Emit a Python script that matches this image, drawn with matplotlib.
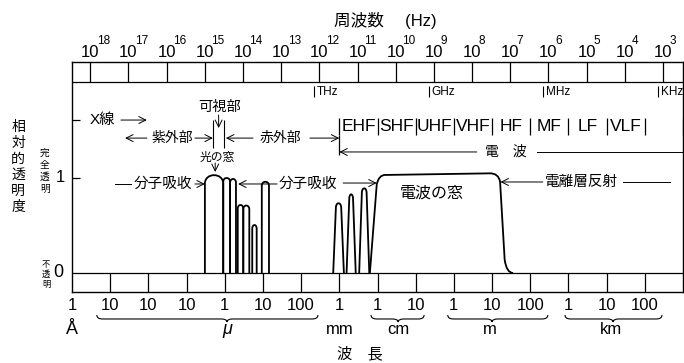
import numpy as np
import matplotlib.pyplot as plt
from matplotlib.path import Path
from matplotlib.patches import PathPatch

plt.rcParams['font.family'] = ['Liberation Sans', 'Noto Sans CJK JP', 'DejaVu Sans']

# x axis: log10(wavelength in m); y axis: relative transparency (0..1)
LOG_C = np.log10(2.998e8)

# top frequency scale (Hz exponents)
freq_exps = [18, 17, 16, 15, 14, 13, 12, 11, 10, 9, 8, 7, 6, 5, 4, 3]
freq_units = ['THz', 'GHz', 'MHz', 'KHz']
freq_unit_exps = [12, 9, 6, 3]

# bottom wavelength scale
wl_pos = list(range(-10, 6))
wl_labels = ['1', '10', '10', '10', '1', '10', '100', '1',
             '1', '10', '1', '10', '100', '1', '10', '100']
unit_names = ['Å', 'μ', 'mm', 'cm', 'm', 'km']
unit_pos = [-10, -5.94, -3, -1.46, 0.95, 4.12]
brace_left = [-9.35, -2.17, -0.16, 2.91]
brace_mid = [-5.94, -1.46, 1.0, 4.17]
brace_right = [-3.56, -0.78, 2.46, 5.45]

# radio bands
band_names = ['EHF', 'SHF', 'UHF', 'VHF', 'HF', 'MF', 'LF', 'VLF', '']
band_edges = [-3, -2, -1, 0, 1, 2, 3, 4, 5, 6]

# optical / infrared windows (left, right, peak transparency)
opt_left = [-6.52, -6.04, -5.86, -5.66, -5.515, -5.28, -5.03]
opt_right = [-6.04, -5.86, -5.706, -5.515, -5.357, -5.164, -4.842]
opt_top = [1.03, 1.0, 0.99, 0.716, 0.71, 0.505, 0.96]

# millimetre-wave peaks (base left, base right, peak)
mm_left = [-3.16, -2.81, -2.48]
mm_right = [-2.88, -2.57, -2.215]
mm_top = [0.734, 0.828, 0.891]

# radio window outline
win_u = [-2.20, -2.02, -1.97, -1.80, 0.95, 1.17, 1.21, 1.33, 1.38, 1.55]
win_t = [0.0, 0.93, 1.032, 1.032, 1.049, 1.049, 0.96, 0.14, 0.0, 0.0]

fig = plt.figure(figsize=(6.84, 3.63), dpi=100)
ax = fig.add_axes([72 / 684, 71 / 363, 611 / 684, 230 / 363])
ax.set_xlim(-10, 6)
ax.set_ylim(-0.2, 2.221)
ax.set_xticks([])
ax.set_yticks([])
for s in ax.spines.values():
    s.set_linewidth(1.0)

LW = 0.9
STRIP_TOP = 2.011

# strips
ax.axhline(0, color='black', lw=LW)
ax.axhline(STRIP_TOP, color='black', lw=LW)
freq_u = [LOG_C - n for n in freq_exps]
ax.vlines(freq_u, STRIP_TOP, 2.221, color='black', lw=LW)
ax.vlines(wl_pos[1:], -0.2, 0, color='black', lw=LW)
ax.hlines([1.0, 1.61], -10, -9.8, color='black', lw=LW)

# transmission curve
def arch(lb, rb, top, inset, ry):
    lt, rt = lb + inset, rb - inset
    verts = [(lb, 0), (lt, top - ry), (lt, top + ry / 3), (rt, top + ry / 3), (rt, top - ry), (rb, 0)]
    codes = [Path.MOVETO, Path.LINETO, Path.CURVE4, Path.CURVE4, Path.CURVE4, Path.LINETO]
    ax.add_patch(PathPatch(Path(verts, codes), fill=False, lw=1.3, color='black'))

for i in range(len(opt_left)):
    arch(opt_left[i], opt_right[i], opt_top[i], 0.0, 0.09 if i == 0 else 0.04)
for i in range(len(mm_left)):
    arch(mm_left[i], mm_right[i], mm_top[i], 0.07, 0.05)

win_codes = [Path.MOVETO, Path.LINETO, Path.CURVE3, Path.CURVE3, Path.LINETO,
             Path.CURVE3, Path.CURVE3, Path.LINETO, Path.CURVE3, Path.CURVE3]
ax.add_patch(PathPatch(Path(list(zip(win_u, win_t)), win_codes), fill=False, lw=1.3, color='black'))


def arrow(x0, x1, y0, y1=None):
    if y1 is None:
        y1 = y0
    ax.annotate('', xy=(x1, y1), xytext=(x0, y0),
                arrowprops=dict(arrowstyle='->,head_length=0.5,head_width=0.25',
                                lw=0.7, color='black', shrinkA=0, shrinkB=0,
                                mutation_scale=10))


def line(x0, x1, y):
    ax.plot([x0, x1], [y, y], color='black', lw=0.7)


# regions
ax.text(-9.21, 1.61, 'X線', fontsize=11, ha='center', va='center')
arrow(-8.72, -8.04, 1.61)
arrow(-8.04, -8.61, 1.42)
ax.text(-7.38, 1.42, '紫外部', fontsize=10, ha='center', va='center')
arrow(-6.78, -6.31, 1.42)
ax.vlines([-6.31, -6.02], 1.316, 1.61, color='black', lw=0.8)
ax.text(-6.14, 1.75, '可視部', fontsize=10.3, ha='center', va='center')
arrow(-6.16, -6.16, 1.663, 1.526)
arrow(-5.26, -5.97, 1.42)
ax.text(-4.55, 1.42, '赤外部', fontsize=10, ha='center', va='center')
arrow(-3.77, -3.0, 1.42)

ax.vlines(band_edges, 1.453, 1.632, color='black', lw=0.9)
ax.vlines(-3, 1.242, 1.453, color='black', lw=0.9)
for i, name in enumerate(band_names):
    ax.text((band_edges[i] + band_edges[i + 1]) / 2, 1.54, name,
            fontsize=12.5, ha='center', va='center')
arrow(0.6, -3.0, 1.274)
ax.text(1.36, 1.274, '電　波', fontsize=10, ha='center', va='center')
line(2.18, 6.0, 1.274)

ax.text(-6.2, 1.215, '光の窓', fontsize=8.5, ha='center', va='center')
arrow(-6.25, -6.25, 1.158, 1.063)

line(-8.87, -8.45, 0.937)
ax.text(-7.62, 0.937, '分子吸收', fontsize=10.5, ha='center', va='center')
arrow(-6.78, -6.52, 0.937)
arrow(-4.63, -5.65, 0.937)
ax.text(-3.82, 0.937, '分子吸收', fontsize=10.5, ha='center', va='center')
arrow(-2.90, -2.02, 0.947)

arrow(2.33, 1.22, 0.958)
ax.text(3.35, 0.958, '電離層反射', fontsize=10.5, ha='center', va='center')
line(4.43, 5.66, 0.958)
ax.text(-0.57, 0.842, '電波の窓', fontsize=11.5, ha='center', va='center')

# top frequency labels
for u, n in zip(freq_u, freq_exps):
    ax.text(u, 2.326, '10', fontsize=12, ha='center', va='center')
    ax.text(u + 0.17, 2.447, str(n), fontsize=8.5, ha='left', va='center')
ax.text(-1.79, 2.655, '周波数　 (Hz)', fontsize=12, ha='center', va='center')
for name, n in zip(freq_units, freq_unit_exps):
    u = LOG_C - n
    ax.vlines(u - 0.13, 1.853, 1.968, color='black', lw=0.8)
    ax.text(u - 0.06, 1.91, name, fontsize=8.5, ha='left', va='center')

# y labels
ax.text(-11.41, 1.116, '相\n対\n的\n透\n明\n度', fontsize=10, ha='center', va='center',
        linespacing=1.18, clip_on=False)
ax.text(-10.71, 1.074, '完\n全\n透\n明', fontsize=7, ha='center', va='center',
        linespacing=1.28, clip_on=False)
ax.text(-10.31, 1.0, '1', fontsize=12, ha='center', va='center')
ax.text(-10.68, -0.02, '不\n透\n明', fontsize=6, ha='center', va='center',
        linespacing=1.3)
ax.text(-10.35, 0.0, '0', fontsize=13, ha='center', va='center')

# bottom wavelength labels
for u, lab in zip(wl_pos, wl_labels):
    ax.text(u, -0.347, lab, fontsize=12, ha='center', va='center')
for u, name in zip(unit_pos, unit_names):
    ax.text(u, -0.59, name, fontsize=13 if name in ('μ', 'Å') else 12,
            ha='center', va='center', style='italic' if name == 'μ' else 'normal')

yt, ym, yb, d = -0.442, -0.484, -0.516, 0.15
for x0, xc, x1 in zip(brace_left, brace_mid, brace_right):
    verts = [(x0, yt), (x0, ym), (x0 + d, ym), (xc - d, ym), (xc, ym), (xc, yb),
             (xc, ym), (xc + d, ym), (x1 - d, ym), (x1, ym), (x1, yt)]
    codes = [Path.MOVETO, Path.CURVE3, Path.CURVE3, Path.LINETO, Path.CURVE3, Path.CURVE3,
             Path.CURVE3, Path.CURVE3, Path.LINETO, Path.CURVE3, Path.CURVE3]
    ax.add_patch(PathPatch(Path(verts, codes), fill=False, lw=0.8, color='black', clip_on=False))

ax.text(-2.46, -0.853, '波　長', fontsize=11, ha='center', va='center')

fig.savefig('out.png', dpi=100)
